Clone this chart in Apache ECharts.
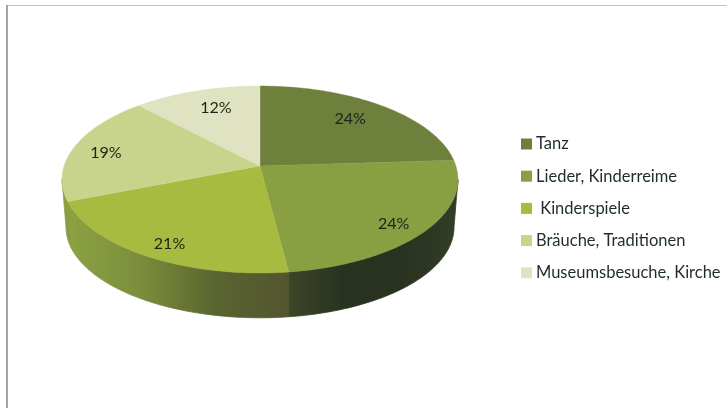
<!DOCTYPE html>
<html><head><meta charset="utf-8">
<style>html,body{margin:0;padding:0;background:#fff}#c{width:727px;height:408px;filter:blur(0.45px)}</style>
<script src="https://cdn.jsdelivr.net/npm/echarts@6/dist/echarts.min.js"></script>
</head><body><div id="c"></div>
<script>
const categories = ['Tanz', 'Lieder, Kinderreime', 'Kinderspiele', 'Bräuche, Traditionen', 'Museumsbesuche, Kirche'];
const values = [24, 24, 21, 19, 12];
const topColors = ['#6f7f3c', '#8a9f42', '#a6bb40', '#c8d48c', '#dfe3c1'];
const sideStops = [
  ['#3a4429', '#3a4429'],
  ['#3d4629', '#28321f', '#28321f', '#343d27'],
  ['#8ca242', '#7b8d3c', '#59652f', '#53542f'],
  ['#8ca242', '#86993f'],
  ['#dfe3c1', '#dfe3c1']
];
const labelNudge = [[-3, -1], [12, 11], [-8, 13], [-14, 1], [5, 0]];

const PIE = {cx: 260, cy: 166, A: 91.55, B: 195.9, p: 0.1444, drop: 48, sx: 0.98, sy: 0.97, labelR: 0.75};
const total = values.reduce((a, b) => a + b, 0);
const toAngle = v => v / total * Math.PI * 2;
const startOf = i => toAngle(values.slice(0, i).reduce((a, b) => a + b, 0));

function project(theta, r, lower) {
  const u = Math.sin(theta) * r, v = Math.cos(theta) * r, f = 1 / (1 + PIE.p * v);
  return lower
    ? [PIE.cx + PIE.B * PIE.sx * u * f, PIE.cy + PIE.drop - PIE.A * PIE.sy * v * f]
    : [PIE.cx + PIE.B * u * f, PIE.cy - PIE.A * v * f];
}
function arc(a0, a1, lower) {
  const n = Math.max(2, Math.ceil((a1 - a0) / 0.015)), pts = [];
  for (let k = 0; k <= n; k++) pts.push(project(a0 + (a1 - a0) * k / n, 1, lower));
  return pts;
}
const visFrom = Math.acos(-PIE.p), visTo = Math.PI * 2 - visFrom;

function sliceItem(i) {
  return function (params, api) {
    const a0 = startOf(i), a1 = a0 + toAngle(api.value(0));
    const children = [];
    const s0 = Math.max(a0, visFrom), s1 = Math.min(a1, visTo);
    if (s1 > s0) {
      const stops = sideStops[i];
      const fill = {type: 'linear', x: 0, y: 0, x2: 1, y2: 0,
        colorStops: stops.map((c, k) => ({offset: k / (stops.length - 1), color: c}))};
      children.push({type: 'polygon', z2: 1,
        shape: {points: arc(s0, s1, false).concat(arc(s0, s1, true).reverse())},
        style: {fill: fill, stroke: fill, lineWidth: 0.8}});
    }
    children.push({type: 'polygon', z2: 2,
      shape: {points: [project(0, 0, false)].concat(arc(a0, a1, false))},
      style: {fill: topColors[i], stroke: topColors[i], lineWidth: 0.4}});
    const mid = (a0 + a1) / 2, lp = project(mid, PIE.labelR, false);
    children.push({type: 'text', z2: 3, x: lp[0] + labelNudge[i][0], y: lp[1] + labelNudge[i][1],
      style: {text: api.value(0) + '%', font: '16px Lato, Carlito, sans-serif', fill: '#1c2418',
        align: 'center', verticalAlign: 'middle'}});
    return {type: 'group', children: children};
  };
}

const chart = echarts.init(document.getElementById('c'), null, {renderer: 'canvas'});
chart.setOption({
  animation: false,
  backgroundColor: '#ffffff',
  tooltip: {show: false},
  legend: {
    orient: 'vertical', left: 516, top: 130, itemWidth: 11, itemHeight: 11, itemGap: 14.2,
    icon: 'rect', data: categories, selectedMode: false,
    formatter: n => n === 'Kinderspiele' ? ' ' + n : n,
    textStyle: {fontFamily: 'Lato, Carlito, sans-serif', fontSize: 16.5, color: '#1f2c2c', height: 18, lineHeight: 18, padding: [0, 0, 0, -1]}
  },
  graphic: [
    {type: 'rect', silent: true, shape: {x: 6, y: 5, width: 721, height: 1}, style: {fill: '#cdbfb8'}},
    {type: 'rect', silent: true, shape: {x: 6, y: 5, width: 2, height: 403}, style: {fill: '#9fa6a8'}}
  ],
  series: categories.map((name, i) => ({
    type: 'custom', name: name, coordinateSystem: 'none',
    itemStyle: {color: topColors[i]},
    data: [values[i]],
    renderItem: sliceItem(i)
  }))
});
</script></body></html>
